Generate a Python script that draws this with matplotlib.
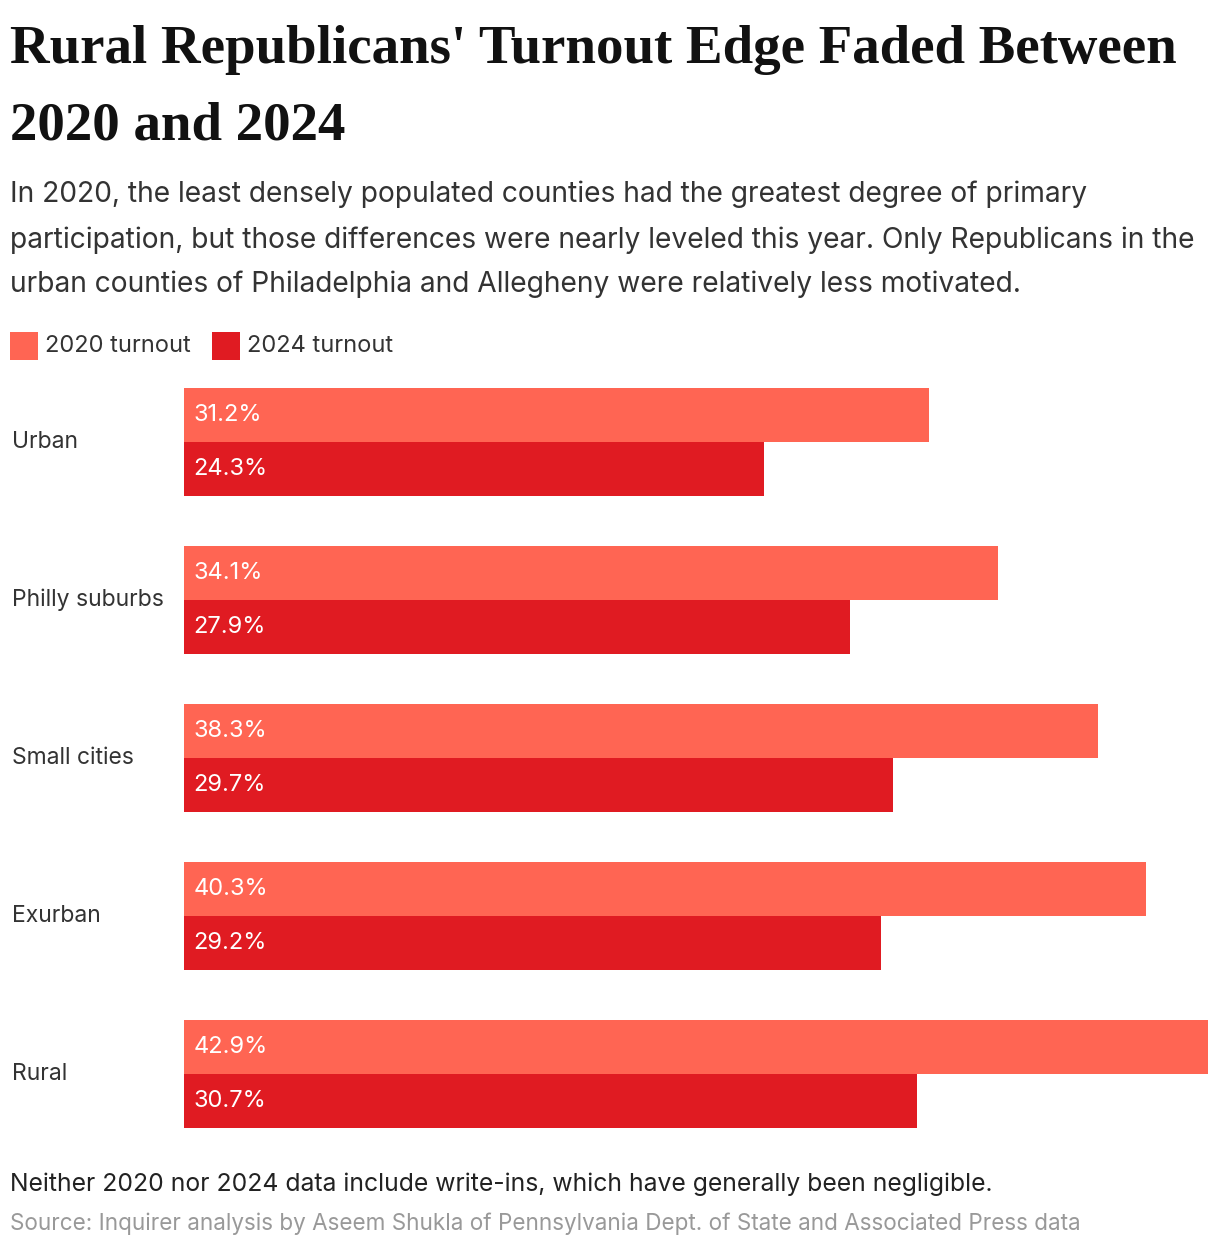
import matplotlib.pyplot as plt
from matplotlib.patches import Rectangle

categories = ['Urban', 'Philly suburbs', 'Small cities', 'Exurban', 'Rural']
turnout_2020 = [31.2, 34.1, 38.3, 40.3, 42.9]
turnout_2024 = [24.3, 27.9, 29.7, 29.2, 30.7]
series_labels = ['2020 turnout', '2024 turnout']

color_2020 = '#FF6553'
color_2024 = '#E01B22'
text_color = '#333333'

W, H = 1220, 1248
fig = plt.figure(figsize=(W / 100, H / 100), dpi=100)
fig.patch.set_facecolor('white')


def fx(px):
    return px / W


def fy(py):
    return 1 - py / H


sans = ['Inter', 'DejaVu Sans']

# titles
title_lines = ["Rural Republicans' Turnout Edge Faded Between", "2020 and 2024"]
for y, line in zip([50, 127], title_lines):
    fig.text(fx(10), fy(y), line, fontsize=39.5, fontweight='bold', family='Liberation Serif',
             color='#111111', va='center', ha='left')

subtitle_lines = [
    "In 2020, the least densely populated counties had the greatest degree of primary",
    "participation, but those differences were nearly leveled this year. Only Republicans in the",
    "urban counties of Philadelphia and Allegheny were relatively less motivated.",
]
for y, line in zip([194, 240, 284], subtitle_lines):
    fig.text(fx(10), fy(y), line, fontsize=20.3, family=sans, color=text_color,
             va='center', ha='left')

# legend
lx = [10, 212]
for x0, lab, col in zip(lx, series_labels, [color_2020, color_2024]):
    fig.patches.append(Rectangle((fx(x0), fy(360)), fx(28), 28 / H, transform=fig.transFigure,
                                 facecolor=col, edgecolor='none'))
    fig.text(fx(x0 + 35), fy(346), lab, fontsize=17, family=sans, color=text_color,
             va='center', ha='left')

# bars
ax = fig.add_axes([fx(184), fy(1128), fx(1208 - 184), (1128 - 388) / H])
h = 54 / 158
pos = list(range(len(categories)))
ax.barh([p - h / 2 for p in pos], turnout_2020, height=h, color=color_2020)
ax.barh([p + h / 2 for p in pos], turnout_2024, height=h, color=color_2024)
for p, v20, v24 in zip(pos, turnout_2020, turnout_2024):
    ax.text(0.4, p - h / 2, f'{v20}%', color='white', fontsize=17, family=sans, va='center')
    ax.text(0.4, p + h / 2, f'{v24}%', color='white', fontsize=17, family=sans, va='center')
    ax.text(-7.2, p, categories[p], color=text_color, fontsize=16.5, family=sans,
            va='center', ha='left')
ax.set_xlim(0, 42.9)
ax.set_ylim(len(categories) - 1 + h, -h)
ax.axis('off')

# notes
fig.text(fx(10), fy(1184), 'Neither 2020 nor 2024 data include write-ins, which have generally been negligible.',
         fontsize=17.8, family=sans, color='#222222', va='center', ha='left')
fig.text(fx(10), fy(1224), 'Source: Inquirer analysis by Aseem Shukla of Pennsylvania Dept. of State and Associated Press data',
         fontsize=16.2, family=sans, color='#999999', va='center', ha='left')

fig.savefig('out.png', dpi=100)
